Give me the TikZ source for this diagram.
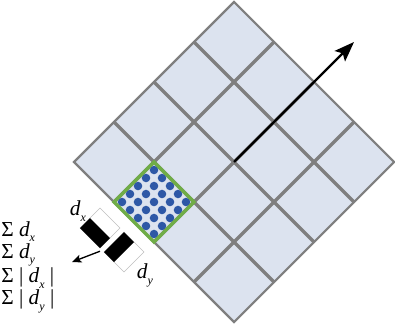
\documentclass[tikz,border=0pt]{standalone}
\usepackage{fontspec}
\setmainfont{Liberation Serif}
\usepackage{tikz}
\usetikzlibrary{arrows.meta}
\definecolor{cellfill}{HTML}{DCE3EF}
\definecolor{gridgray}{HTML}{7F7F7F}
\definecolor{patchgreen}{HTML}{70AD47}
\definecolor{dotblue}{HTML}{2E58A6}
\newcommand{\dsub}[1]{\raisebox{-0.6ex}{\small\textit{#1}}}

\begin{document}
\begin{tikzpicture}[
  x=0.75pt, y=-0.75pt,
  cell/.style={fill=cellfill},
  gridline/.style={draw=gridgray, line width=2.6pt},
  border/.style={draw=gridgray, line width=1.6pt},
  patch/.style={draw=patchgreen, line width=2.5pt},
  dot/.style={fill=dotblue},
  haar/.style={draw=black!25, line width=0.4pt, fill=white},
  arr/.style={-{Stealth[length=15pt,width=11pt,inset=3pt]}, line width=1.8pt},
  smallarr/.style={-{Stealth[length=7pt,width=6pt,inset=1.5pt]}, line width=1pt},
  lbl/.style={font=\fontsize{16}{15}\selectfont, inner sep=0pt}
]
\useasboundingbox (0,0) rectangle (395,328);
% 4x4 grid of cells, turned by 45 degrees
\begin{scope}[shift={(74,162)}, rotate=45, x=42.43pt, y=-42.43pt]
  \fill[cell] (0,0) rectangle (4,4);
  \foreach \k in {1,2,3} {
    \draw[gridline] (\k,0) -- (\k,4);
    \draw[gridline] (0,\k) -- (4,\k);
  }
  \draw[border] (0,0) rectangle (4,4);
  % sample points in one cell
  \foreach \a in {0,...,4}
    \foreach \b in {0,...,4}
      \fill[dot] (0.1+0.2*\a,1.1+0.2*\b) circle (3.2pt);
  \draw[patch] (0,1) rectangle (1,2);
  % haar wavelets dx and dy
  \draw[haar] (-0.75,0.9) rectangle (-0.25,1.4);
  \fill (-0.75,0.9) rectangle (-0.5,1.4);
  \draw[haar] (-0.75,1.5) rectangle (-0.25,2.0);
  \fill (-0.75,1.5) rectangle (-0.25,1.75);
  \coordinate (ctr) at (2,2);
  \coordinate (orient) at (5,2);
  \coordinate (haarout) at (-0.79,1.44);
\end{scope}
\draw[arr] (ctr) -- (orient);
\coordinate (sumin) at (72,262);
\draw[smallarr] (haarout) -- (sumin);
% labels
\node[lbl] (lbldx) at (78,211) {\textit{d}\dsub{x}};
\node[lbl] (lbldy) at (145,275) {\textit{d}\dsub{y}};
\node[lbl, align=left, anchor=north west] (sums) at (1,221) {%
  Σ \textit{d}\dsub{x}\\
  Σ \textit{d}\dsub{y}\\
  Σ | \textit{d}\dsub{x} |\\
  Σ | \textit{d}\dsub{y} |};
\end{tikzpicture}
\end{document}
